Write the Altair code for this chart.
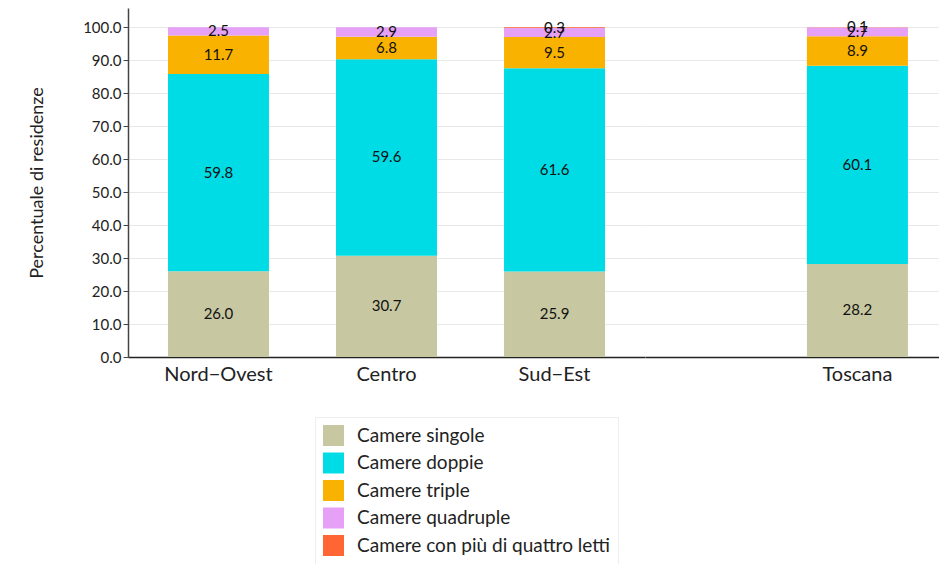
import altair as alt
import pandas as pd

regioni = ["Nord−Ovest", "Centro", "Sud−Est", "Toscana"]
tipologie = [
    "Camere singole",
    "Camere doppie",
    "Camere triple",
    "Camere quadruple",
    "Camere con più di quattro letti",
]
singole = [26.0, 30.7, 25.9, 28.2]
doppie = [59.8, 59.6, 61.6, 60.1]
triple = [11.7, 6.8, 9.5, 8.9]
quadruple = [2.5, 2.9, 2.7, 2.7]
piu_di_quattro = [0.0, 0.0, 0.3, 0.1]
colori = ["#C7C8A1", "#00DCE6", "#FAB200", "#E6A1F6", "#FF6633"]
y_ticks = [0, 10, 20, 30, 40, 50, 60, 70, 80, 90, 100]

rows = []
for k, (t, vals) in enumerate(zip(tipologie, [singole, doppie, triple, quadruple, piu_di_quattro])):
    for r, v in zip(regioni, vals):
        rows.append({"regione": r, "tipologia": t, "ordine": k, "valore": v})
df = pd.DataFrame(rows)

FONT = "Lato"
y_scale = alt.Scale(domain=[0, 105.8], nice=False, zero=True)
color = alt.Color(
    "tipologia:N",
    scale=alt.Scale(domain=tipologie, range=colori),
    legend=alt.Legend(
        title=None,
        orient="none",
        legendX=187,
        legendY=409,
        direction="vertical",
        symbolType="square",
        symbolSize=441,
        symbolStrokeWidth=0,
        labelFontSize=19,
        labelFont=FONT,
        labelColor="#222222",
        labelOffset=13,
        rowPadding=6.5,
        padding=8,
        strokeColor="#eeeeee",
        labelLimit=400,
    ),
)


def make_yaxis(left):
    if left:
        return alt.Axis(
            title="Percentuale di residenze",
            titleFontSize=18,
            titleFont=FONT,
            titleFontWeight="normal",
            titleColor="#222222",
            titlePadding=36,
            values=y_ticks,
            format=".1f",
            labelFontSize=15,
            labelFont=FONT,
            labelColor="#222222",
            labelOverlap=False,
            tickColor="#444444",
            tickSize=5,
            domainColor="#444444",
            domainWidth=1.5,
            grid=True,
            gridColor="#e8e8e8",
        )
    return alt.Axis(
        title=None,
        values=y_ticks,
        labels=False,
        ticks=False,
        domain=False,
        grid=True,
        gridColor="#e8e8e8",
    )


def make_xaxis():
    return alt.Axis(
        title=None,
        labelAngle=0,
        ticks=False,
        labelFontSize=20,
        labelFont=FONT,
        labelColor="#222222",
        labelPadding=7,
        domainColor="#222222",
        domainWidth=1.5,
    )


def panel(regs, width, xscale, left):
    base = (
        alt.Chart(df)
        .transform_filter(alt.FieldOneOfPredicate(field="regione", oneOf=regs))
        .transform_stack(
            stack="valore",
            groupby=["regione"],
            as_=["y0", "y1"],
            sort=[alt.SortField("ordine", order="ascending")],
        )
        .transform_calculate(mid="(datum.y0 + datum.y1) / 2")
    )
    bars = base.mark_bar().encode(
        x=alt.X("regione:N", sort=regs, scale=xscale, axis=make_xaxis()),
        y=alt.Y("y0:Q", scale=y_scale, axis=make_yaxis(left)),
        y2="y1:Q",
        color=color,
    )
    text = (
        base.transform_filter("datum.valore > 0")
        .mark_text(fontSize=15, font=FONT, color="#111111", baseline="middle")
        .encode(
            x=alt.X("regione:N", sort=regs, scale=xscale, axis=make_xaxis()),
            y=alt.Y("mid:Q", scale=y_scale, axis=make_yaxis(left)),
            text=alt.Text("valore:Q", format=".1f"),
        )
    )
    return alt.layer(bars, text).properties(width=width, height=349)


left = panel(
    regioni[:3],
    517,
    alt.Scale(domain=regioni[:3], paddingInner=0.399, paddingOuter=0.238),
    True,
)
right = panel(
    regioni[3:],
    294,
    alt.Scale(domain=regioni[3:], paddingInner=0.399, paddingOuter=0.574, align=0.839),
    False,
)

chart = (
    alt.hconcat(left, right, spacing=0)
    .resolve_scale(y="shared")
    .properties(padding={"left": 20, "top": 0, "right": 0, "bottom": 0})
    .configure(font=FONT)
    .configure_view(strokeWidth=0, stroke=None)
)

chart.save("out.html", embed_options={"renderer": "svg", "actions": False})
